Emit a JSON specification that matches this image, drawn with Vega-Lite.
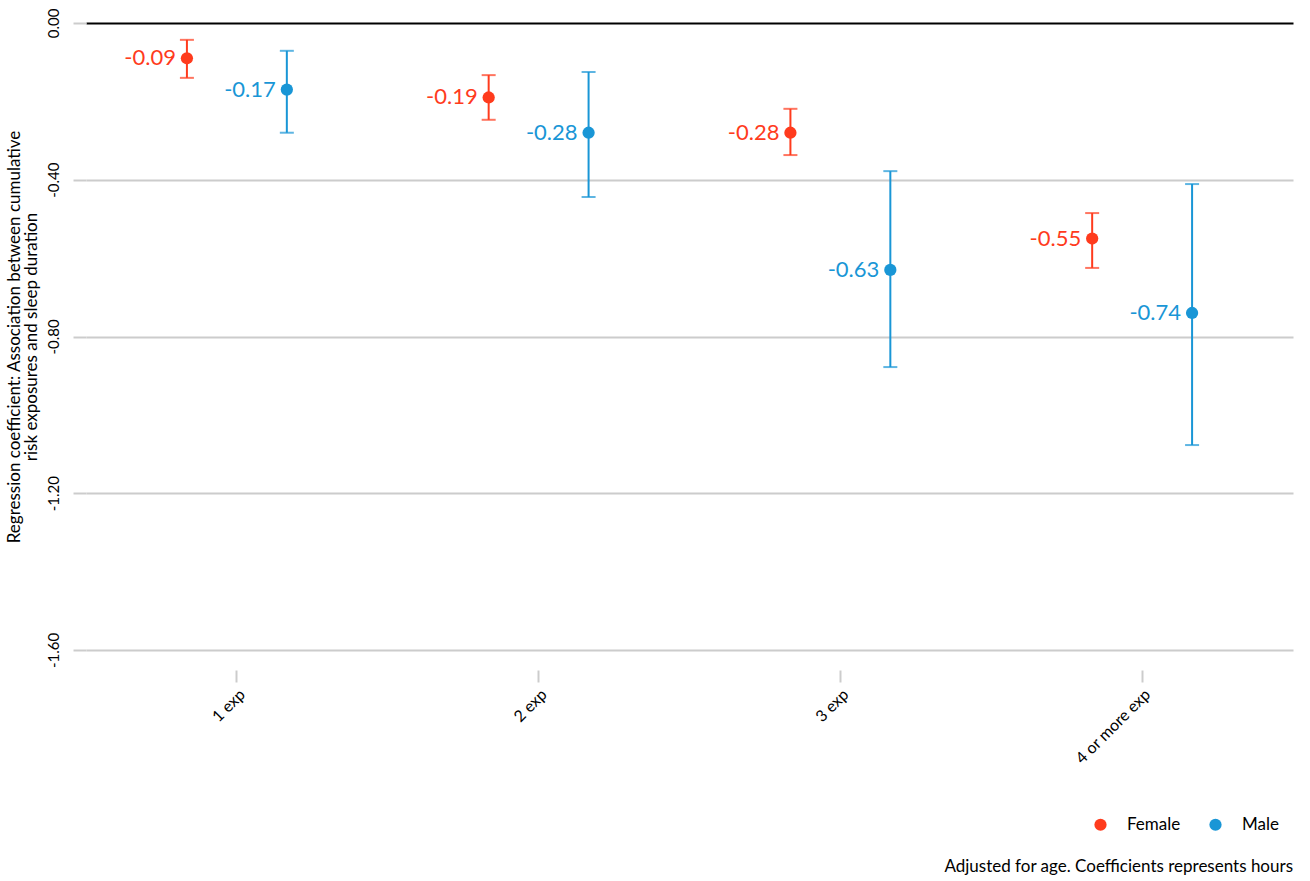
{
  "$schema": "https://vega.github.io/schema/vega-lite/v6.json",
  "width": 1207,
  "height": 627,
  "padding": {"left": 5, "top": 8, "right": 15, "bottom": 5},
  "background": "white",
  "config": {
    "font": "Lato",
    "view": {"stroke": null},
    "locale": {"number": {"decimal": ".", "thousands": ",", "grouping": [3], "currency": ["$", ""], "minus": "-"}}
  },
  "title": {
    "text": "Adjusted for age. Coefficients represents hours",
    "orient": "bottom",
    "anchor": "end",
    "fontSize": 17,
    "fontWeight": "normal",
    "color": "black",
    "offset": 26
  },
  "data": {
    "values": [
      {"cat": "1 exp", "sex": "Female", "coef": -0.09, "lo": -0.14, "hi": -0.043},
      {"cat": "1 exp", "sex": "Male", "coef": -0.17, "lo": -0.28, "hi": -0.071},
      {"cat": "2 exp", "sex": "Female", "coef": -0.19, "lo": -0.247, "hi": -0.133},
      {"cat": "2 exp", "sex": "Male", "coef": -0.28, "lo": -0.444, "hi": -0.125},
      {"cat": "3 exp", "sex": "Female", "coef": -0.28, "lo": -0.337, "hi": -0.219},
      {"cat": "3 exp", "sex": "Male", "coef": -0.63, "lo": -0.878, "hi": -0.378},
      {"cat": "4 or more exp", "sex": "Female", "coef": -0.55, "lo": -0.625, "hi": -0.485},
      {"cat": "4 or more exp", "sex": "Male", "coef": -0.74, "lo": -1.077, "hi": -0.411}
    ]
  },
  "encoding": {
    "x": {
      "field": "cat",
      "type": "nominal",
      "sort": null,
      "scale": {"paddingInner": 0, "paddingOuter": 0},
      "axis": {
        "title": null,
        "labelAngle": -45,
        "labelFontSize": 16,
        "labelColor": "black",
        "domain": false,
        "ticks": true,
        "tickColor": "#cccccc",
        "tickWidth": 2,
        "tickSize": 12,
        "offset": 20,
        "labelPadding": 4,
        "grid": false
      }
    },
    "xOffset": {
      "field": "sex",
      "type": "nominal",
      "scale": {"paddingOuter": 0.51, "paddingInner": 0}
    },
    "color": {
      "field": "sex",
      "type": "nominal",
      "scale": {"domain": ["Female", "Male"], "range": ["#FF3B1D", "#1996D6"]},
      "legend": {
        "title": null,
        "orient": "none",
        "legendX": 1006,
        "legendY": 793,
        "direction": "horizontal",
        "symbolType": "circle",
        "symbolFillOpacity": 1,
        "symbolOpacity": 1,
        "symbolStrokeWidth": 0,
        "symbolSize": 150,
        "labelFontSize": 17,
        "labelColor": "black",
        "columnPadding": 26,
        "labelOffset": 18
      }
    }
  },
  "layer": [
    {
      "mark": {"type": "rule", "strokeWidth": 2},
      "encoding": {
        "y": {
          "field": "lo",
          "type": "quantitative",
          "scale": {"domain": [-1.6, 0], "nice": false, "zero": false},
          "axis": {
            "title": ["Regression coefficient: Association between cumulative", "risk exposures and sleep duration"],
            "titleFontSize": 17,
            "titleFontWeight": "normal",
            "titleColor": "black",
            "titlePadding": 6,
            "titleLineHeight": 17,
            "values": [0, -0.4, -0.8, -1.2, -1.6],
            "format": ".2f",
            "labelAngle": -90,
            "labelAlign": "center",
            "labelBaseline": "bottom",
            "labelFontSize": 15,
            "labelColor": "black",
            "labelPadding": 12,
            "domain": false,
            "tickColor": "#cccccc",
            "tickWidth": 2,
            "tickSize": 13,
            "grid": true,
            "gridColor": {"condition": {"test": "datum.value === 0", "value": "black"}, "value": "#cccccc"},
            "gridWidth": 2
          }
        },
        "y2": {"field": "hi"}
      }
    },
    {
      "mark": {"type": "tick", "thickness": 2, "size": 14},
      "encoding": {"y": {"field": "lo", "type": "quantitative"}}
    },
    {
      "mark": {"type": "tick", "thickness": 2, "size": 14},
      "encoding": {"y": {"field": "hi", "type": "quantitative"}}
    },
    {
      "mark": {"type": "point", "filled": true, "opacity": 1, "size": 150},
      "encoding": {"y": {"field": "coef", "type": "quantitative"}}
    },
    {
      "mark": {"type": "text", "align": "right", "baseline": "middle", "dx": -11, "fontSize": 22},
      "encoding": {
        "y": {"field": "coef", "type": "quantitative"},
        "text": {"field": "coef", "type": "quantitative", "format": ".2f"}
      }
    }
  ]
}
